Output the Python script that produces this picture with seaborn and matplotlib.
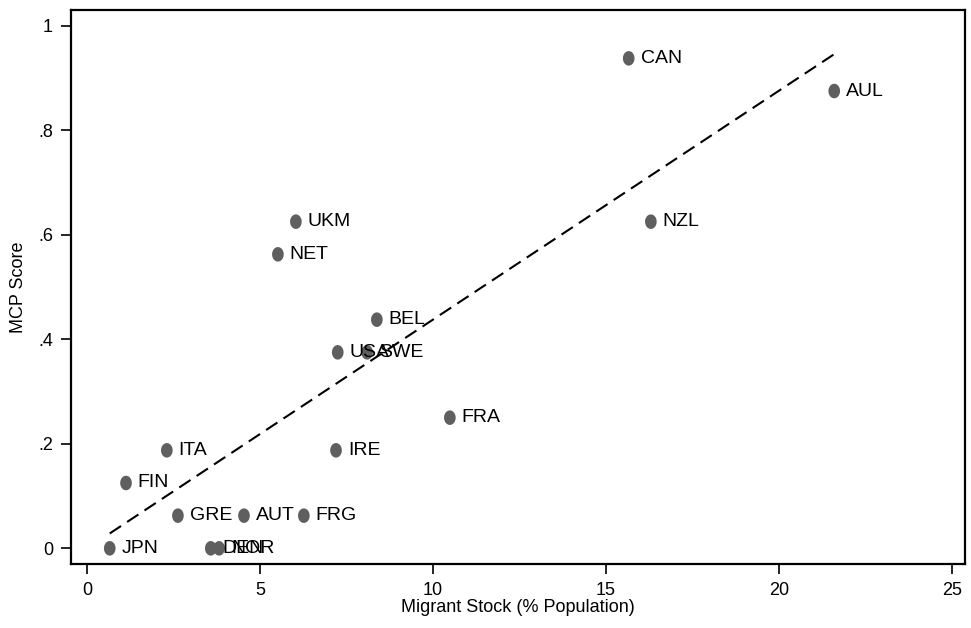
import matplotlib
matplotlib.use("Agg")
import matplotlib.pyplot as plt
from matplotlib.path import Path
import numpy as np
import seaborn as sns
import pandas as pd

# Country codes, migrant stock (% of population) and MCP score
countries = ["JPN", "FIN", "ITA", "GRE", "DEN", "NOR", "AUT", "NET", "UKM",
             "FRG", "IRE", "USA", "SWE", "BEL", "FRA", "CAN", "NZL", "AUL"]
migrant_stock = [0.66, 1.13, 2.31, 2.63, 3.58, 3.82, 4.54, 5.52, 6.04,
                 6.27, 7.20, 7.25, 8.10, 8.38, 10.49, 15.66, 16.30, 21.60]
mcp_score = [0.0, 0.125, 0.1875, 0.0625, 0.0, 0.0, 0.0625, 0.5625, 0.625,
             0.0625, 0.1875, 0.375, 0.375, 0.4375, 0.25, 0.9375, 0.625, 0.875]

x_ticks = [0, 5, 10, 15, 20, 25]
y_ticks = [0, 0.2, 0.4, 0.6, 0.8, 1.0]
y_tick_labels = ["0", ".2", ".4", ".6", ".8", "1"]

df = pd.DataFrame({"country": countries, "stock": migrant_stock, "mcp": mcp_score})

sns.set_theme(style="white")
plt.rcParams["font.family"] = ["Liberation Sans", "DejaVu Sans"]

# Slightly tall elliptical marker
t = np.linspace(0, 2 * np.pi, 41)
oval = Path(np.column_stack([0.8 * np.cos(t), np.sin(t)]), closed=True)

fig = plt.figure(figsize=(9.71, 6.28), dpi=100)
ax = fig.add_axes([71 / 971, 1 - 564 / 628, (965 - 71) / 971, (564 - 10) / 628])

# Linear fit, dashed, over the observed range
sns.regplot(data=df, x="stock", y="mcp", ax=ax, scatter=False, ci=None,
            truncate=True, line_kws=dict(color="black", lw=1.5, ls=(0, (6.5, 3.5))))

sns.scatterplot(data=df, x="stock", y="mcp", ax=ax, color="#5f5f5f",
                s=110, marker=oval, edgecolor="none", zorder=3)

for c, xv, yv in zip(df["country"], df["stock"], df["mcp"]):
    ax.annotate(c, (xv, yv), xytext=(8.5, 0), textcoords="offset points",
                ha="left", va="center", fontsize=14, color="black")

ax.set_xlim(-0.46, 25.38)
ax.set_ylim(-0.03, 1.03)
ax.set_xticks(x_ticks)
ax.set_xticklabels([str(t) for t in x_ticks])
ax.set_yticks(y_ticks)
ax.set_yticklabels(y_tick_labels)
ax.tick_params(axis="both", which="major", direction="out", length=7, width=1.2,
               color="black", labelsize=13, labelcolor="black", pad=6,
               bottom=True, left=True)
for s in ax.spines.values():
    s.set_visible(True)
    s.set_color("black")
    s.set_linewidth(1.6)

ax.set_xlabel("Migrant Stock (% Population)", fontsize=13, color="black", labelpad=0)
ax.set_ylabel("MCP Score", fontsize=13, color="black", labelpad=8)

fig.savefig("out.png", dpi=100)
